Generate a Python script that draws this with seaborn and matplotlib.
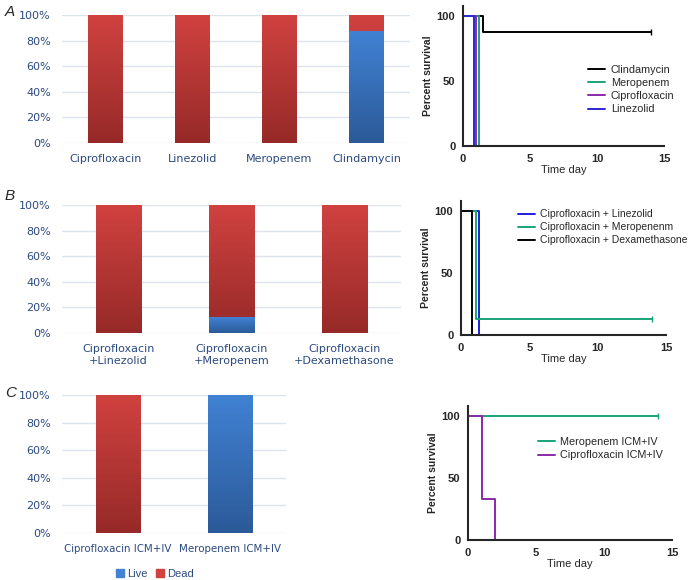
import numpy as np
import pandas as pd
import matplotlib
matplotlib.use('Agg')
import matplotlib.pyplot as plt
import seaborn as sns
from matplotlib.colors import LinearSegmentedColormap
from matplotlib.patches import Patch
from matplotlib.ticker import PercentFormatter

# Данные: доля выживших (Live) по группам, Dead = 1 - Live
CATS_A = ['Ciprofloxacin', 'Linezolid', 'Meropenem', 'Clindamycin']
LIVE_A = [0.0, 0.0, 0.0, 0.875]
CATS_B = ['Ciprofloxacin\n+Linezolid', 'Ciprofloxacin\n+Meropenem', 'Ciprofloxacin\n+Dexamethasone']
LIVE_B = [0.0, 0.125, 0.0]
CATS_C = ['Ciprofloxacin ICM+IV', 'Meropenem ICM+IV']
LIVE_C = [0.0, 1.0]

# Кривые выживания (время, % выживших)
KM_A = {
    'Clindamycin': ([0, 1.5, 14], [100, 87.5, 87.5]),
    'Meropenem': ([0, 1.2], [100, 0]),
    'Ciprofloxacin': ([0, 1.0], [100, 0]),
    'Linezolid': ([0, 0.8], [100, 0]),
}
KM_B = {
    'Ciprofloxacin + Linezolid': ([0, 1.3], [100, 0]),
    'Ciprofloxacin + Meropenenm': ([0, 1.1, 14], [100, 12.5, 12.5]),
    'Ciprofloxacin + Dexamethasone': ([0, 0.8], [100, 0]),
}
KM_C = {
    'Meropenem ICM+IV': ([0, 14], [100, 100]),
    'Ciprofloxacin ICM+IV': ([0, 1, 2], [100, 33.3, 0]),
}

KM_COLORS = {
    'Clindamycin': 'black', 'Meropenem': '#1aa37a', 'Ciprofloxacin': '#8a2aa8', 'Linezolid': '#2a2ad0',
    'Ciprofloxacin + Linezolid': '#1f1fe0', 'Ciprofloxacin + Meropenenm': '#1aa37a',
    'Ciprofloxacin + Dexamethasone': 'black',
    'Meropenem ICM+IV': '#1aa37a', 'Ciprofloxacin ICM+IV': '#8a2aa8',
}

RED = ('#d04240', '#962a28')
BLUE = ('#4182d4', '#2c5a98')
TXT = '#2b4a80'

W, H = 700, 580


def px_axes(fig, x0, x1, ytop, ybot):
    return fig.add_axes([x0 / W, 1 - ybot / H, (x1 - x0) / W, (ybot - ytop) / H])


def shade(ax, patch, cols):
    x0, y0 = patch.get_x(), patch.get_y()
    w, h = patch.get_width(), patch.get_height()
    if h <= 0:
        return
    cmap = LinearSegmentedColormap.from_list('g', [cols[1], cols[0]])
    grad = np.linspace(0, 1, 128).reshape(-1, 1)
    im = ax.imshow(grad, cmap=cmap, extent=[x0, x0 + w, y0, y0 + h], origin='lower',
                   aspect='auto', zorder=patch.get_zorder() + 0.1)
    im.set_clip_path(patch)


def bar_panel(ax, cats, live, fs=8):
    df = pd.DataFrame({'cat': cats, 'total': [1.0] * len(cats), 'live': live})
    sns.barplot(data=df, x='cat', y='total', color=RED[0], width=0.4, ax=ax, saturation=1)
    n = len(ax.patches)
    sns.barplot(data=df, x='cat', y='live', color=BLUE[0], width=0.4, ax=ax, saturation=1)
    for i, p in enumerate(list(ax.patches)):
        p.set_linewidth(0)
        shade(ax, p, RED if i < n else BLUE)
    ax.set_xlim(-0.5, len(cats) - 0.5)
    ax.set_ylim(0, 1)
    ax.yaxis.set_major_formatter(PercentFormatter(1.0, decimals=0))
    ax.set_yticks(np.linspace(0, 1, 6))
    ax.grid(axis='y', color='#dbe3ec', lw=1)
    ax.set_axisbelow(True)
    sns.despine(ax=ax, left=True, bottom=True)
    ax.tick_params(length=0, colors=TXT, labelsize=8, pad=8)
    ax.tick_params(axis='x', labelsize=fs)
    ax.set_xlabel('')
    ax.set_ylabel('')


def km_panel(ax, curves, legend_loc, leg_fs=7.8):
    for name, (t, s) in curves.items():
        sns.lineplot(x=t, y=s, drawstyle='steps-post', color=KM_COLORS[name], lw=1.4,
                     ax=ax, label=name, estimator=None, sort=False)
        if t[-1] >= 14:
            ax.plot(t[-1], s[-1], marker='|', ms=4, color=KM_COLORS[name], mew=1)
    ax.set_xlim(0, 15)
    ax.set_ylim(0, 108)
    ax.set_xticks([0, 5, 10, 15])
    ax.set_yticks([0, 50, 100])
    sns.despine(ax=ax)
    for sp in ['left', 'bottom']:
        ax.spines[sp].set_linewidth(1.5)
    ax.tick_params(direction='out', length=4, width=1.5, labelsize=8, pad=1.5)
    for lab in ax.get_xticklabels() + ax.get_yticklabels():
        lab.set_fontweight('bold')
    ax.set_ylabel('Percent survival', fontsize=7.5, fontweight='bold', labelpad=3)
    ax.set_xlabel('Time day', fontsize=8, labelpad=1)
    ax.legend(frameon=False, fontsize=leg_fs, handlelength=1.6, handletextpad=0.5,
              labelspacing=0.3, loc='upper left', bbox_to_anchor=legend_loc, borderaxespad=0)


sns.set_style('white')
plt.rcParams['font.family'] = ['Liberation Sans', 'DejaVu Sans']

fig = plt.figure(figsize=(7, 5.8), dpi=100)

# Левая колонка: столбчатые диаграммы
axA = px_axes(fig, 62, 410, 15, 143)
bar_panel(axA, CATS_A, LIVE_A)
axB = px_axes(fig, 62, 401, 205, 333)
bar_panel(axB, CATS_B, LIVE_B)
axC = px_axes(fig, 62, 286, 395, 533)
bar_panel(axC, CATS_C, LIVE_C, fs=7.4)
for ax in (axA, axB, axC):
    for lab in ax.get_xticklabels() + ax.get_yticklabels():
        lab.set_family('DejaVu Sans')

# Правая колонка: кривые выживания
kA = px_axes(fig, 463, 664, 5.6, 146)
km_panel(kA, KM_A, (0.6, 0.61))
kB = px_axes(fig, 461, 666, 201, 335)
km_panel(kB, KM_B, (0.26, 0.97), leg_fs=7.5)
kC = px_axes(fig, 468, 672, 406, 540)
km_panel(kC, KM_C, (0.32, 0.8))

fig.legend(handles=[Patch(color=BLUE[0], label='Live'), Patch(color=RED[0], label='Dead')],
           loc='center', bbox_to_anchor=(155 / W, 1 - 574 / H), ncol=2, frameon=False,
           fontsize=8, handlelength=0.7, handleheight=0.7, handletextpad=0.3,
           columnspacing=0.8, labelcolor=TXT)

for letter, y in [('A', 12), ('B', 196), ('C', 393)]:
    fig.text(5 / W, 1 - y / H, letter, fontsize=11, style='italic', va='center')

fig.savefig('out.png', dpi=100)
